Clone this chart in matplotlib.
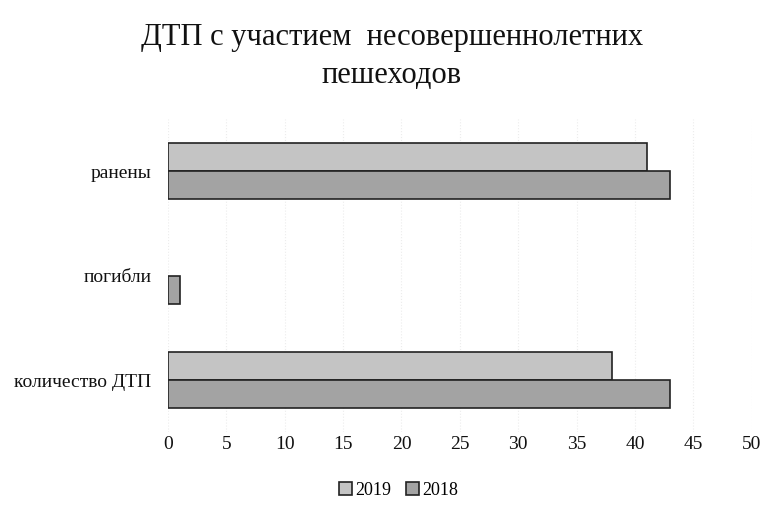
import numpy as np
import matplotlib.pyplot as plt

categories = ['количество ДТП', 'погибли', 'ранены']
vals_2019 = [38, 0, 41]
vals_2018 = [43, 1, 43]
series = ['2019', '2018']

plt.rcParams['font.family'] = ['Liberation Serif', 'DejaVu Serif']

fig = plt.figure(figsize=(7.67, 5.22), dpi=100)
ax = fig.add_axes([0.219, 0.172, 0.761, 0.600])

y = np.arange(len(categories))
h = 0.27
# no outline for zero-length bars
lw19 = [1.2 if v > 0 else 0 for v in vals_2019]
lw18 = [1.2 if v > 0 else 0 for v in vals_2018]
ax.barh(y + h/2, vals_2019, height=h, color='#c4c4c4', edgecolor='#222222', linewidth=lw19, label=series[0])
ax.barh(y - h/2, vals_2018, height=h, color='#a3a3a3', edgecolor='#222222', linewidth=lw18, label=series[1])

ax.set_xlim(0, 50)
ax.set_ylim(-0.5, 2.5)
ax.set_xticks(range(0, 51, 5))
ax.set_yticks(y)
ax.set_yticklabels(categories)
ax.tick_params(length=0, labelsize=14, colors='#111111')
ax.tick_params(axis='x', pad=3)
ax.tick_params(axis='y', pad=12)
ax.grid(axis='x', color='#ececec', linestyle=':', linewidth=0.8)
ax.set_axisbelow(True)
for s in ax.spines.values():
    s.set_visible(False)

fig.text(0.511, 0.891, 'ДТП с участием  несовершеннолетних\nпешеходов', ha='center', va='center',
         fontsize=22, linespacing=1.4, color='#111111')

fig.legend(loc='center', bbox_to_anchor=(0.52, 0.061), ncol=2, frameon=False, fontsize=13,
           handlelength=0.7, handleheight=0.7, handletextpad=0.2, columnspacing=0.8)

fig.savefig('out.png', dpi=100)
